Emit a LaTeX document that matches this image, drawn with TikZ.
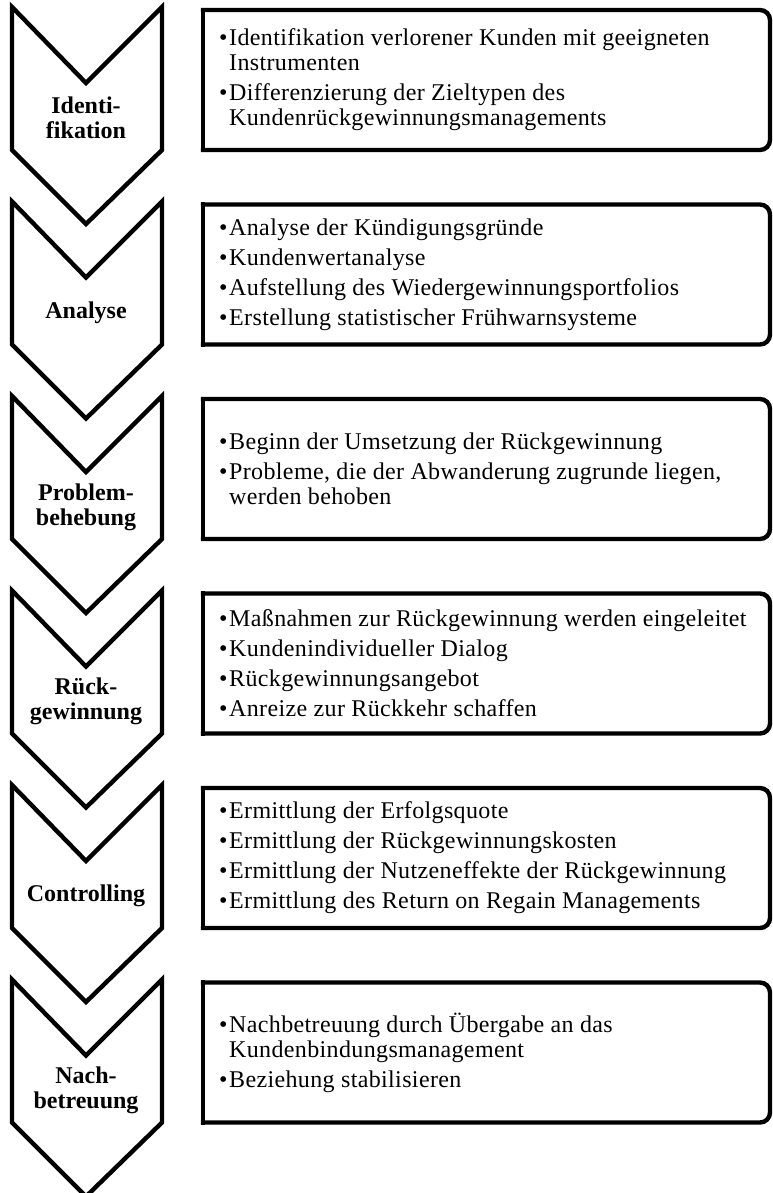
\documentclass[tikz,border=0pt]{standalone}
\usepackage{fontspec}
\setmainfont{Liberation Serif}
% slightly tracked face for the bullet lists
\newfontfamily\listfont[LetterSpace=1.5]{Liberation Serif}

% bullet with a fixed-width slot, and the matching hanging indent
\newcommand\bl{\makebox[10pt][l]{\textbullet}}
\newcommand\hi{\hspace*{10pt}}

\tikzset{
  chev/.style={draw, line width=4.4pt, line join=miter},
  boxline/.style={draw, line width=4.4pt, line cap=rect},
  stage/.style={font=\bfseries\fontsize{24}{25}\selectfont, align=center, inner sep=0pt},
  items/.style={font=\listfont\fontsize{24}{25}\selectfont, align=left, inner sep=0pt, anchor=west}
}

% #1 name, #2 top of the chevron, #3 stage label, #4 bullet list
\newcommand\phase[4]{%
  \draw[chev] (12,#2) -- (86,#2+76) -- (162,#2) -- (162,#2+143)
              -- (86,#2+217) -- (12,#2+143) -- cycle;
  \node[stage] (#1-lbl) at (86,#2+111) {#3};
  \draw[boxline, rounded corners=10pt] (203,#2+3) -- (770,#2+3) -- (770,#2+143) -- (203,#2+143);
  \draw[boxline] (203,#2+143) -- (203,#2+3);
  \node[items] (#1-txt) at (219,#2+73) {#4};
}

\begin{document}
\begin{tikzpicture}[x=1pt, y=-1pt]
  \useasboundingbox (0,0) rectangle (772,1193);

  \phase{ident}{7}{Identi-\\fikation}{%
    \bl Identifikation verlorener Kunden mit geeigneten\\
    \hi Instrumenten\\[5pt]
    \bl Differenzierung der Zieltypen des\\
    \hi Kundenrückgewinnungsmanagements}

  \phase{analyse}{201.5}{Analyse}{%
    \bl Analyse der Kündigungsgründe\\[5pt]
    \bl Kundenwertanalyse\\[5pt]
    \bl Aufstellung des Wiedergewinnungsportfolios\\[5pt]
    \bl Erstellung statistischer Frühwarnsysteme}

  \phase{problem}{396}{Problem-\\behebung}{%
    \bl Beginn der Umsetzung der Rückgewinnung\\[5pt]
    \bl Probleme, die der Abwanderung zugrunde liegen,\\
    \hi werden behoben}

  \phase{rueck}{590.5}{Rück-\\gewinnung}{%
    \bl Maßnahmen zur Rückgewinnung werden eingeleitet\\[5pt]
    \bl Kundenindividueller Dialog\\[5pt]
    \bl Rückgewinnungsangebot\\[5pt]
    \bl Anreize zur Rückkehr schaffen}

  \phase{control}{785}{Controlling}{%
    \bl Ermittlung der Erfolgsquote\\[5pt]
    \bl Ermittlung der Rückgewinnungskosten\\[5pt]
    \bl Ermittlung der Nutzeneffekte der Rückgewinnung\\[5pt]
    \bl Ermittlung des Return on Regain Managements}

  \phase{nach}{979.5}{Nach-\\betreuung}{%
    \bl Nachbetreuung durch Übergabe an das\\
    \hi Kundenbindungsmanagement\\[5pt]
    \bl Beziehung stabilisieren}
\end{tikzpicture}
\end{document}
